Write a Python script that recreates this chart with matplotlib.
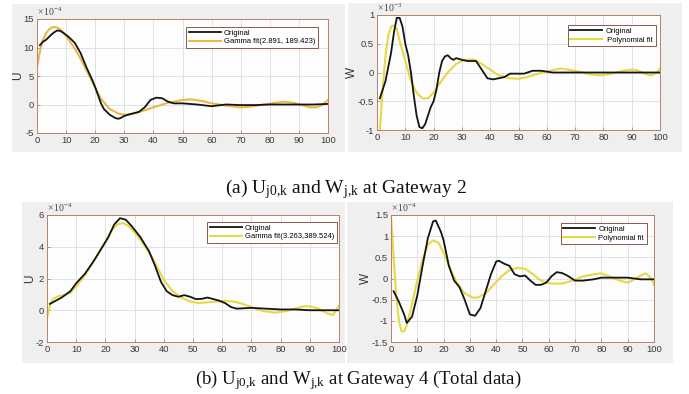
import matplotlib
matplotlib.use("Agg")
import matplotlib.pyplot as plt
from matplotlib.patches import Rectangle

plt.rcParams['font.family'] = ['Liberation Sans', 'DejaVu Sans']
plt.rcParams['mathtext.fontset'] = 'custom'
plt.rcParams['mathtext.rm'] = 'Liberation Serif'
plt.rcParams['mathtext.it'] = 'Liberation Serif:italic'

# ---------------- data (values in units of the axis multiplier) ----------------
# Panel (a) left: U, Gateway 2, x1e-4
u2_orig_x = [1, 2, 3, 4, 5, 6, 7, 8, 9, 10, 11, 13, 15, 17, 19, 20, 21, 22, 23, 25, 27, 28, 29, 30, 32,
             35, 37, 39, 41, 43, 45, 47, 50, 55, 60, 65, 70, 75, 80, 85, 90, 95, 100]
u2_orig_y = [10.4, 11.0, 11.3, 11.8, 12.3, 12.7, 13.0, 12.9, 12.6, 12.2, 11.8, 10.8, 9.0, 6.5, 4.3, 3.0, 1.6, 0.2, -0.8,
             -1.8, -2.4, -2.5, -2.3, -2.0, -1.7, -1.3, -0.5, 0.8, 1.2, 1.1, 0.5, 0.2, 0.2, 0.0, -0.3, 0.0, -0.1,
             -0.1, 0.0, 0.0, 0.0, 0.0, 0.1]
u2_fit_x = [0, 1, 2, 3, 4, 5, 6, 7, 8, 10, 13, 15, 18, 20, 22, 25, 28, 30, 33, 36, 40, 45, 50, 53, 57,
            60, 65, 70, 73, 78, 82, 85, 88, 91, 94, 96, 98, 100]
u2_fit_y = [6.5, 9.3, 11.2, 12.4, 13.1, 13.5, 13.6, 13.5, 13.2, 12.0, 9.8, 8.0, 5.0, 3.0, 1.0, -0.8, -1.6, -1.8, -1.6,
            -1.2, -0.5, 0.3, 0.8, 0.9, 0.6, 0.2, -0.2, -0.5, -0.4, 0.0, 0.3, 0.5, 0.3, -0.1, -0.5, -0.5, -0.1, 0.8]

# Panel (a) right: W, Gateway 2, x1e-3
w2_orig_x = [1, 2, 3, 4, 5, 6, 7, 8, 9, 10, 11, 12, 13, 14, 15, 16, 17, 18, 19, 20, 21, 22, 23, 24, 25, 26,
             27, 28, 30, 32, 35, 37, 39, 41, 43, 45, 47, 50, 52, 55, 58, 62, 70, 80, 90, 100]
w2_orig_y = [-0.45, -0.3, -0.15, 0.1, 0.35, 0.7, 0.95, 0.95, 0.8, 0.5, 0.3, 0.0, -0.4, -0.75, -0.95, -0.97,
             -0.9, -0.75, -0.6, -0.5, -0.3, 0.0, 0.2, 0.28, 0.3, 0.25, 0.22, 0.25, 0.22, 0.2, 0.2, 0.05, -0.1,
             -0.12, -0.1, -0.08, -0.02, -0.02, -0.02, 0.03, 0.03, 0.0, 0.0, 0.0, 0.0, 0.0]
w2_fit_x = [1, 2, 3, 4, 5, 6, 7, 8, 10, 12, 14, 16, 18, 20, 22, 25, 28, 31, 34, 37, 40, 43, 47, 50, 53,
            57, 60, 65, 70, 75, 79, 83, 87, 90, 92, 95, 97, 99, 100]
w2_fit_y = [-1.0, -0.3, 0.3, 0.65, 0.8, 0.82, 0.75, 0.55, 0.2, -0.15, -0.35, -0.45, -0.45, -0.35, -0.2, 0.0,
            0.15, 0.22, 0.23, 0.15, 0.05, -0.05, -0.1, -0.11, -0.08, -0.02, 0.02, 0.07, 0.03, -0.03, -0.05,
            -0.02, 0.03, 0.05, 0.04, -0.03, -0.05, 0.0, 0.07]

# Panel (b) left: U, Gateway 4, x1e-4
u4_orig_x = [1, 2, 5, 8, 10, 13, 16, 19, 21, 23, 25, 27, 29, 32, 35, 37, 39, 41, 43, 45, 47, 49, 51, 53,
             55, 57, 59, 61, 63, 65, 70, 75, 80, 85, 90, 100]
u4_orig_y = [0.4, 0.5, 0.8, 1.2, 1.7, 2.3, 3.1, 4.0, 4.6, 5.4, 5.8, 5.7, 5.3, 4.6, 3.7, 2.8, 1.8, 1.2, 0.95,
             0.85, 0.95, 0.85, 0.7, 0.72, 0.8, 0.7, 0.6, 0.45, 0.2, 0.1, 0.15, 0.1, 0.05, 0.05, 0.0, 0.0]
u4_fit_x = [0, 1, 2, 4, 6, 8, 10, 13, 16, 19, 22, 24, 26, 28, 31, 34, 37, 40, 43, 46, 49, 52, 55, 58,
            61, 64, 67, 70, 74, 78, 82, 85, 88, 90, 93, 96, 98, 100]
u4_fit_y = [-0.5, 0.3, 0.7, 0.9, 0.95, 1.1, 1.5, 2.2, 3.1, 4.0, 5.0, 5.4, 5.5, 5.3, 4.7, 3.9, 3.0, 1.9, 1.2,
            0.8, 0.55, 0.45, 0.5, 0.55, 0.6, 0.55, 0.4, 0.2, -0.05, -0.15, -0.05, 0.1, 0.25, 0.25, 0.1, -0.2,
            -0.3, 0.3]

# Panel (b) right: W, Gateway 4, x1e-4
w4_orig_x = [1, 3, 5, 6, 8, 10, 12, 14, 16, 17, 19, 20, 22, 24, 26, 28, 30, 32, 34, 36, 38, 40, 41, 43,
             45, 47, 49, 51, 53, 55, 57, 59, 61, 63, 65, 67, 70, 73, 77, 80, 85, 90, 95, 100]
w4_orig_y = [-0.3, -0.55, -0.85, -1.05, -0.9, -0.4, 0.3, 0.95, 1.35, 1.37, 1.1, 0.9, 0.3, -0.05, -0.2, -0.5,
             -0.85, -0.88, -0.7, -0.3, 0.1, 0.4, 0.42, 0.35, 0.3, 0.1, 0.05, 0.07, -0.05, -0.15, -0.15, -0.1,
             0.05, 0.15, 0.13, 0.07, -0.05, -0.05, -0.02, 0.02, 0.02, 0.02, -0.02, -0.02]
w4_fit_x = [0, 1, 2, 3, 4, 5, 6, 8, 10, 12, 14, 16, 18, 20, 22, 25, 28, 31, 33, 36, 39, 42, 45, 48, 51,
            54, 57, 61, 65, 69, 73, 77, 80, 83, 87, 90, 93, 96, 97, 99, 100]
w4_fit_y = [1.5, 0.5, -0.4, -1.0, -1.25, -1.25, -1.1, -0.6, -0.05, 0.45, 0.8, 0.9, 0.85, 0.6, 0.3, -0.1,
            -0.35, -0.45, -0.45, -0.35, -0.15, 0.05, 0.2, 0.25, 0.23, 0.1, -0.05, -0.12, -0.12, -0.05, 0.05,
            0.1, 0.12, 0.05, -0.05, -0.1, 0.0, 0.1, 0.12, 0.0, -0.15]

xticks = [0, 10, 20, 30, 40, 50, 60, 70, 80, 90, 100]
captions = [r"(a) U$_{\mathrm{j0{,}k}}$ and W$_{\mathrm{j{,}k}}$ at Gateway 2",
            r"(b) U$_{\mathrm{j0{,}k}}$ and W$_{\mathrm{j{,}k}}$ at Gateway 4 (Total data)"]

W, H = 689, 394
fig = plt.figure(figsize=(W / 100, H / 100), dpi=100)
fig.patch.set_facecolor('white')

def frac_rect(x0, y0, x1, y1):
    return [x0 / W, 1 - y1 / H, (x1 - x0) / W, (y1 - y0) / H]

BLACK = '#141414'
ORANGE = '#e9b53c'
YELLOW = '#e6d63a'
SPINE = '#b8806a'

panels = [
    dict(bg=(12, 4, 345, 152), ax=(37, 19, 328, 133), ylim=(-5, 15), yticks=[-5, 0, 5, 10, 15],
         ylab='U', exp='-4', ox=u2_orig_x, oy=u2_orig_y, fx=u2_fit_x, fy=u2_fit_y, fc=ORANGE,
         flab='Gamma fit(2.891, 189.423)', leg=(0.966, 0.93)),
    dict(bg=(348, 3, 682, 152), ax=(377, 15, 660, 130), ylim=(-1, 1), yticks=[-1, -0.5, 0, 0.5, 1],
         ylab='W', exp='-3', ox=w2_orig_x, oy=w2_orig_y, fx=w2_fit_x, fy=w2_fit_y, fc=YELLOW,
         flab=' Polynomial fit', leg=(0.986, 0.913)),
    dict(bg=(22, 202, 345, 363), ax=(47, 215, 339, 342), ylim=(-2, 6), yticks=[-2, 0, 2, 4, 6],
         ylab='U', exp='-4', ox=u4_orig_x, oy=u4_orig_y, fx=u4_fit_x, fy=u4_fit_y, fc=YELLOW,
         flab='Gamma fit(3.263,389.524)', leg=(0.993, 0.945)),
    dict(bg=(347, 202, 673, 363), ax=(391, 215, 654, 342), ylim=(-1.5, 1.5),
         yticks=[-1.5, -1, -0.5, 0, 0.5, 1, 1.5],
         ylab='W', exp='-4', ox=w4_orig_x, oy=w4_orig_y, fx=w4_fit_x, fy=w4_fit_y, fc=YELLOW,
         flab='Polynomial fit', leg=(0.973, 0.937)),
]

for p in panels:
    x0, y0, x1, y1 = p['bg']
    fig.patches.append(Rectangle((x0 / W, 1 - y1 / H), (x1 - x0) / W, (y1 - y0) / H,
                                 transform=fig.transFigure, facecolor='#efefef',
                                 edgecolor='none', zorder=-5))
    ax = fig.add_axes(frac_rect(*p['ax']))
    ax.set_zorder(2)
    ax.set_facecolor('#fdfdfd')
    ax.plot(p['ox'], p['oy'], color=BLACK, lw=1.3, label='Original', zorder=3)
    ax.plot(p['fx'], p['fy'], color=p['fc'], lw=1.5, label=p['flab'], zorder=2, alpha=0.95)
    ax.set_xlim(0, 100)
    ax.set_ylim(*p['ylim'])
    ax.set_xticks(xticks)
    ax.set_yticks(p['yticks'])
    ax.set_yticklabels([('%g' % v) for v in p['yticks']])
    ax.grid(True, color='#dde3e8', lw=0.7)
    ax.set_axisbelow(True)
    ax.tick_params(direction='in', length=2.5, width=0.6, labelsize=6.8, colors='#3a3a3a',
                   pad=2, color=SPINE)
    for s in ax.spines.values():
        s.set_color(SPINE)
        s.set_linewidth(0.7)
    ax.set_ylabel(p['ylab'], fontsize=8.5, color='#333333', labelpad=0)
    ax.text(0.0, 1.005, r'$\times\,10^{%s}$' % p['exp'], transform=ax.transAxes,
            fontsize=7, color='#444444', ha='left', va='bottom',
            family=['DejaVu Sans'])
    leg = ax.legend(loc='upper right', bbox_to_anchor=p['leg'], fontsize=5.5, frameon=True,
                    fancybox=False, handlelength=4.2, handletextpad=0.4, borderpad=0.35,
                    labelspacing=0.15, borderaxespad=0.0)
    leg.get_frame().set_edgecolor('#8a5a48')
    leg.get_frame().set_linewidth(0.7)
    leg.get_frame().set_facecolor('white')
    leg.get_frame().set_alpha(1.0)

fig.text(346 / W, 1 - 189 / H, captions[0], ha='center', va='center', fontsize=14,
         family=['Liberation Serif'], color='#111111')
fig.text(358 / W, 1 - 380 / H, captions[1], ha='center', va='center', fontsize=13.5,
         family=['Liberation Serif'], color='#111111')

fig.savefig('out.png', dpi=100)
